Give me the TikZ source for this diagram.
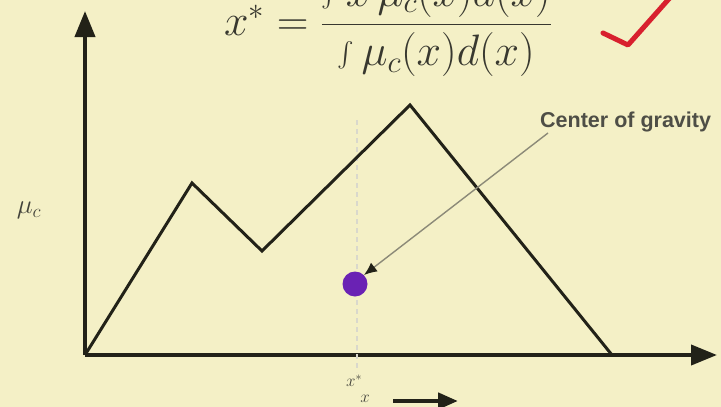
\RequirePackage{fix-cm}
\documentclass[tikz,border=0pt]{standalone}
\usepackage{amsmath}
\usepackage{fontspec}
\newfontfamily\labelfont{Liberation Sans}
\usetikzlibrary{arrows.meta}
\definecolor{paperbg}{HTML}{F4F0C6}
\definecolor{ink}{HTML}{222218}
\definecolor{guide}{HTML}{D9D8CC}
\definecolor{pointer}{HTML}{8C8A78}
\definecolor{cog}{HTML}{6A22B4}
\definecolor{tick}{HTML}{D8202E}
\tikzset{
  axisline/.style={
    draw=ink,
    line width=4pt,
    -{Triangle[length=26pt,width=20pt]}
  },
  curveline/.style={
    draw=ink,
    line width=3pt,
    line join=miter
  },
  guideline/.style={
    draw=guide,
    line width=2.5pt,
    dash pattern=on 5pt off 4pt
  },
  pointerline/.style={
    draw=pointer,
    line width=1.4pt,
    -{Latex[length=13pt,width=11pt,color=ink]}
  },
  cogdot/.style={
    circle,
    fill=cog,
    minimum size=25pt,
    inner sep=0pt
  },
  axislabel/.style={
    text=ink!85,
    inner sep=0pt
  }
}
\begin{document}
\begin{tikzpicture}[x=1pt,y=-1pt]
\clip (0,0) rectangle (721,407);
\fill[paperbg] (0,0) rectangle (721,407);

% formula and tick mark
\node[text=ink!90, anchor=west, inner sep=0pt, font=\fontsize{44}{50}\selectfont] (formula) at (224,25)
  {$x^{*}=\dfrac{\int x\,\mu_c(x)d(x)}{\int \mu_c(x)d(x)}$};
\draw[tick, line width=5pt, line cap=round, line join=round]
  (603,33) -- (628,45) -- (675,-8);

% axes
\coordinate (origin) at (85,355);
\coordinate (ytop) at (85,11);
\coordinate (xend) at (717,355);
\draw[axisline] (origin) -- (ytop);
\draw[axisline] (origin) -- (xend);

% centroid guide
\coordinate (gtop) at (357,120);
\coordinate (gbot) at (357,372);
\draw[guideline] (gtop) -- (gbot);

% membership curve
\coordinate (peakA) at (192,183);
\coordinate (valley) at (262,251);
\coordinate (peakB) at (410,105);
\coordinate (footR) at (612,355);
\draw[curveline] (origin) -- (peakA) -- (valley) -- (peakB) -- (footR);

% centroid
\node[cogdot] (centroid) at (355,284) {};
\node[font=\labelfont\bfseries\fontsize{21.5}{24}\selectfont, text=ink!80, anchor=west, inner sep=0pt] (cglabel) at (540,122) {Center of gravity};
\coordinate (ptail) at (548,133);
\draw[pointerline] (ptail) -- (centroid.north east);

% labels
\node[axislabel, font=\fontsize{27}{30}\selectfont] (mulabel) at (29,210) {$\mu_c$};
\node[axislabel, font=\fontsize{17}{19}\selectfont] (xstar) at (354,381) {$x^{*}$};
\node[axislabel, font=\fontsize{17}{19}\selectfont] (xsub) at (365,399) {$x$};
\coordinate (dirA) at (393,401);
\coordinate (dirB) at (458,401);
\draw[ink, line width=4.5pt, -{Triangle[length=20pt,width=16pt]}] (dirA) -- (dirB);
\end{tikzpicture}
\end{document}
